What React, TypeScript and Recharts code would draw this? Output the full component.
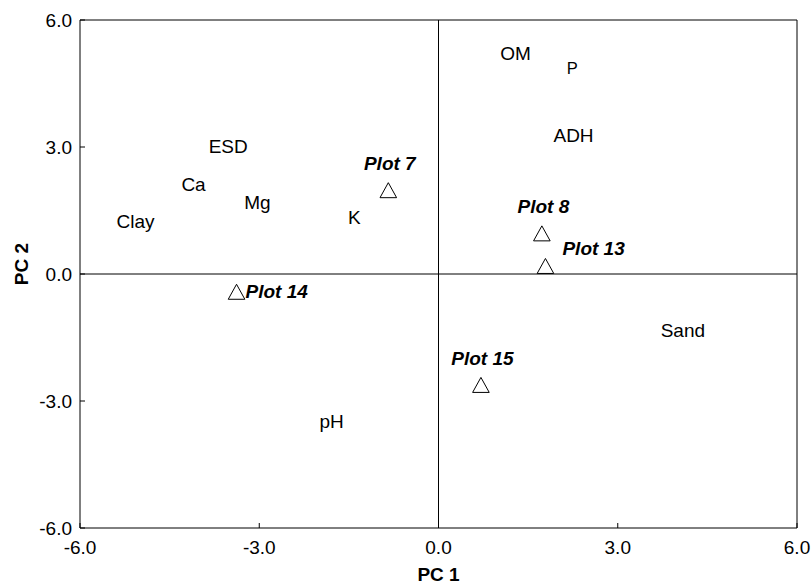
import React from 'react';
import { ScatterChart, Scatter, XAxis, YAxis, ReferenceLine, Label } from 'recharts';

// Sample plots (triangles)
const plotNames = ['Plot 7', 'Plot 8', 'Plot 13', 'Plot 14', 'Plot 15'];
const plotPC1 = [-0.84, 1.73, 1.79, -3.38, 0.71];
const plotPC2 = [1.98, 0.96, 0.19, -0.42, -2.62];
const plotLabelSide = ['above', 'above', 'aboveRight', 'right', 'above'];

// Soil variables (text markers)
const varNames = ['OM', 'P', 'ADH', 'ESD', 'Ca', 'Mg', 'Clay', 'K', 'Sand', 'pH'];
const varPC1 = [1.29, 2.24, 2.26, -3.52, -4.10, -3.03, -5.07, -1.41, 4.09, -1.79];
const varPC2 = [5.21, 4.87, 3.29, 3.01, 2.12, 1.69, 1.24, 1.34, -1.33, -3.47];

const axisTicks = [-6, -3, 0, 3, 6];
const smallLabels = ['P'];

const FONT = '"Liberation Sans", Arial, Helvetica, sans-serif';

const plotData = plotNames.map((name, i) => ({ name, x: plotPC1[i], y: plotPC2[i], side: plotLabelSide[i] }));
const varData = varNames.map((name, i) => ({ name, x: varPC1[i], y: varPC2[i] }));

const TriangleShape = (props: any) => {
  const { cx, cy, payload } = props;
  if (cx == null || cy == null) return null;
  const hw = 8.3;
  const hh = 7.5;
  const pts = `${cx},${cy - hh} ${cx - hw},${cy + hh} ${cx + hw},${cy + hh}`;
  let tx = cx + 1.5;
  let ty = cy - 20;
  let anchor: 'middle' | 'start' = 'middle';
  if (payload.side === 'aboveRight') {
    tx = cx + 17;
    ty = cy - 11;
    anchor = 'start';
  } else if (payload.side === 'right') {
    tx = cx + 9;
    ty = cy + 6.6;
    anchor = 'start';
  }
  return (
    <g>
      <polygon points={pts} fill="#fff" stroke="#000" strokeWidth={1} />
      <text x={tx} y={ty} textAnchor={anchor} fontFamily={FONT} fontSize={19} fontWeight="bold" fontStyle="italic" fill="#000">
        {payload.name}
      </text>
    </g>
  );
};

const VarTextShape = (props: any) => {
  const { cx, cy, payload } = props;
  if (cx == null || cy == null) return null;
  const fs = smallLabels.includes(payload.name) ? 16.5 : 19;
  return (
    <text x={cx} y={cy} dy="0.36em" textAnchor="middle" fontFamily={FONT} fontSize={fs} fill="#000">
      {payload.name}
    </text>
  );
};

const YLabel = (props: any) => {
  const vb = props.viewBox || {};
  const cx = 21;
  const cy = (vb.y ?? 20) + (vb.height ?? 508) / 2 - 10;
  return (
    <text
      x={cx}
      y={cy}
      transform={`rotate(-90, ${cx}, ${cy})`}
      textAnchor="middle"
      dy="0.36em"
      fontFamily={FONT}
      fontSize={19}
      fontWeight="bold"
      fill="#000"
    >
      PC 2
    </text>
  );
};

const tickStyle = { fill: '#000', fontSize: 19, fontFamily: FONT };
const fmt = (v: number) => v.toFixed(1);

export default function App() {
  return (
    <div style={{ position: 'absolute', left: 0, top: 0, width: 812, height: 584, background: '#fff' }}>
      <ScatterChart width={812} height={584} margin={{ top: 20, right: 15, bottom: 0, left: 0 }}>
        <XAxis
          type="number"
          dataKey="x"
          domain={[-6, 6]}
          ticks={axisTicks}
          tickFormatter={fmt}
          allowDataOverflow
          height={56}
          axisLine={{ stroke: '#000' }}
          tickLine={{ stroke: '#000' }}
          tickSize={-5}
          tickMargin={18}
          tick={tickStyle}
          interval={0}
        >
          <Label value="PC 1" position="insideBottom" offset={3} fontFamily={FONT} fontSize={19} fontWeight="bold" fill="#000" />
        </XAxis>
        <YAxis
          type="number"
          dataKey="y"
          domain={[-6, 6]}
          ticks={axisTicks}
          tickFormatter={fmt}
          allowDataOverflow
          width={80}
          axisLine={{ stroke: '#000' }}
          tickLine={{ stroke: '#000' }}
          tickSize={-5}
          tickMargin={13}
          tick={tickStyle}
          interval={0}
        >
          <Label content={YLabel} />
        </YAxis>
        <ReferenceLine y={6} stroke="#000" />
        <ReferenceLine x={6} stroke="#000" />
        <ReferenceLine y={0} stroke="#000" />
        <ReferenceLine x={0} stroke="#000" />
        <Scatter data={varData} shape={VarTextShape} isAnimationActive={false} />
        <Scatter data={plotData} shape={TriangleShape} isAnimationActive={false} />
      </ScatterChart>
    </div>
  );
}
